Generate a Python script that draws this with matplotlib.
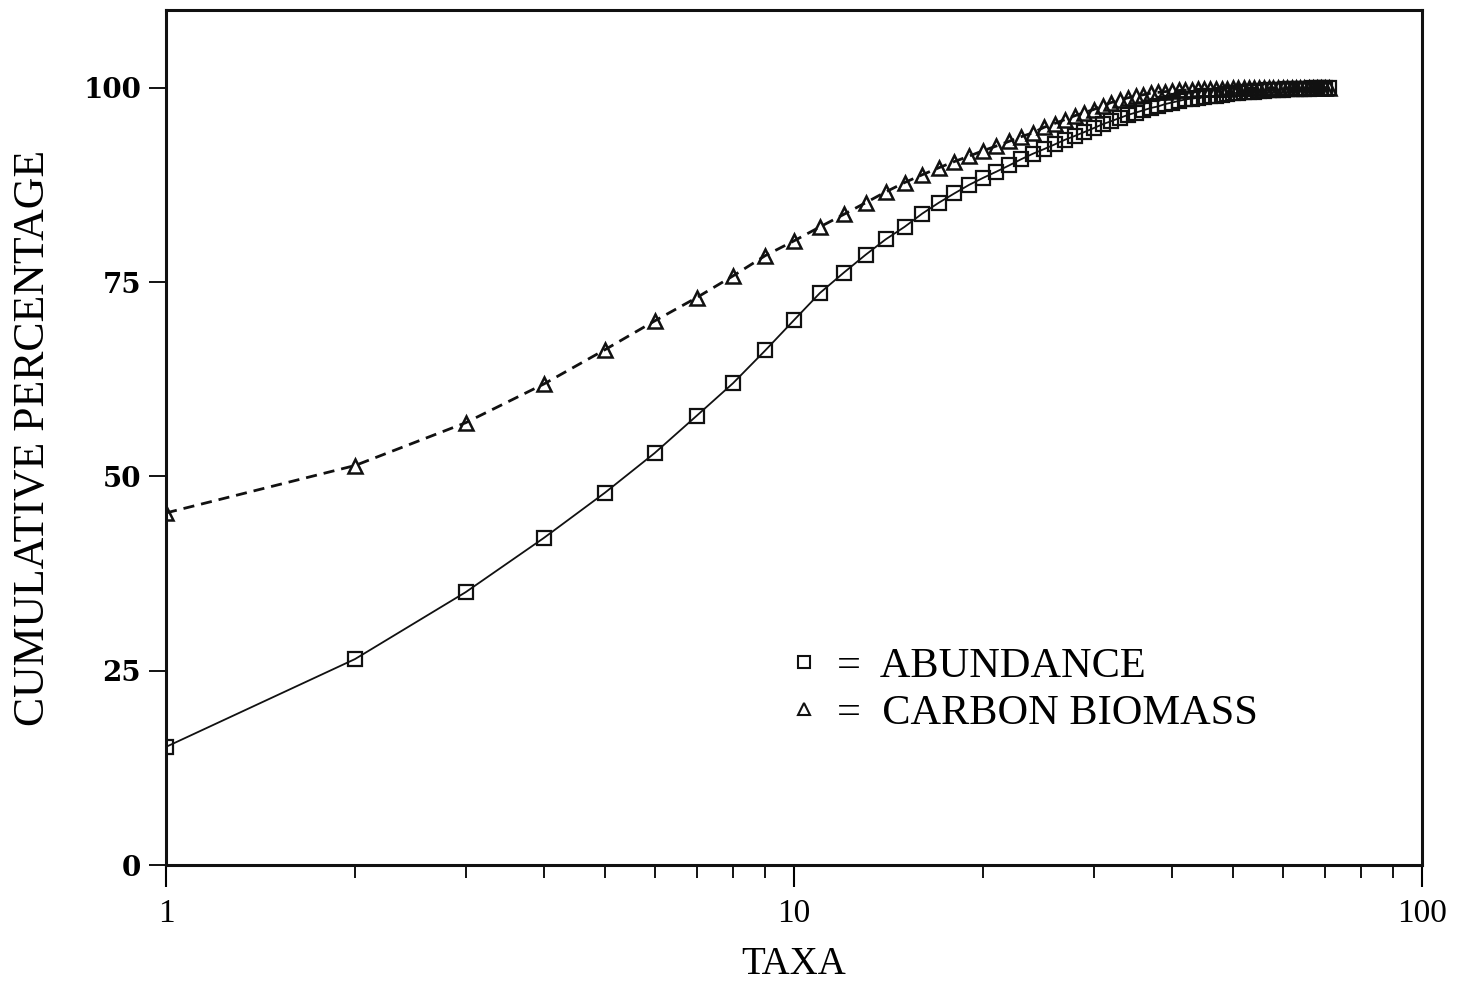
import numpy as np
import matplotlib
matplotlib.use('Agg')
import matplotlib.pyplot as plt
from matplotlib.lines import Line2D
from matplotlib.ticker import FixedLocator, NullFormatter

plt.rcParams['font.family'] = ['Liberation Serif', 'DejaVu Serif']

# cumulative percentage by ranked taxa
taxa = list(range(1, 72))
abundance = [15.2, 26.5, 35.1, 42.1, 47.9, 53.0, 57.8, 62.0, 66.2, 70.1,
             73.6, 76.2, 78.5, 80.5, 82.1, 83.8, 85.2, 86.4, 87.5, 88.4,
             89.2, 90.0, 90.8, 91.5, 92.1, 92.7, 93.3, 93.8, 94.3, 94.8,
             95.3, 95.7, 96.1, 96.5, 96.8, 97.1, 97.4, 97.6, 97.9, 98.1,
             98.3, 98.5, 98.6, 98.7, 98.8, 98.9, 99.0, 99.1, 99.2, 99.3,
             99.35, 99.4, 99.45, 99.5, 99.55, 99.6, 99.65, 99.7, 99.72, 99.75,
             99.78, 99.8, 99.83, 99.86, 99.88, 99.9, 99.93, 99.95, 99.97, 99.99,
             100.0]
biomass = [45.3, 51.4, 56.9, 61.9, 66.3, 70.0, 73.0, 75.8, 78.4, 80.3,
           82.1, 83.7, 85.2, 86.6, 87.8, 88.8, 89.7, 90.5, 91.2, 91.9,
           92.5, 93.1, 93.7, 94.2, 94.9, 95.4, 95.9, 96.4, 96.8, 97.2,
           97.7, 98.1, 98.4, 98.7, 98.9, 99.1, 99.3, 99.4, 99.5, 99.6,
           99.65, 99.7, 99.75, 99.8, 99.82, 99.84, 99.86, 99.88, 99.9, 99.91,
           99.92, 99.93, 99.94, 99.95, 99.95, 99.96, 99.96, 99.97, 99.97, 99.98,
           99.98, 99.98, 99.99, 99.99, 99.99, 99.99, 100.0, 100.0, 100.0, 100.0,
           100.0]

yticks = [0, 25, 50, 75, 100]
xticks = [1, 10, 100]

fig = plt.figure(figsize=(14.65, 9.83), dpi=100)
ax = fig.add_axes([0.1133, 0.12, 0.8573, 0.8698])

ax.plot(taxa, abundance, color='#111111', lw=1.3, ls='-',
        marker='s', ms=10.5, mfc='none', mec='#111111', mew=1.6)
ax.plot(taxa, biomass, color='#111111', lw=2.0, ls=(0, (4, 2.5)),
        marker='^', ms=10, mfc='none', mec='#111111', mew=1.8)

ax.set_xscale('log')
ax.set_xlim(1, 100)
ax.set_ylim(0, 110)

ax.xaxis.set_major_locator(FixedLocator(xticks))
ax.set_xticklabels([str(t) for t in xticks])
ax.xaxis.set_minor_locator(FixedLocator([2, 3, 4, 5, 6, 7, 8, 9, 20, 30, 40, 50, 60, 70, 80, 90]))
ax.xaxis.set_minor_formatter(NullFormatter())
ax.set_yticks(yticks)
ax.set_yticklabels([str(t) for t in yticks], fontweight='bold', family='DejaVu Serif')

ax.tick_params(axis='x', which='major', direction='out', length=16, width=1.5,
               labelsize=24, pad=8, top=False)
ax.tick_params(axis='x', which='minor', direction='out', length=9, width=1.3, top=False)
ax.tick_params(axis='y', direction='out', length=12, width=1.3, labelsize=20, pad=6, right=False)

for s in ax.spines.values():
    s.set_linewidth(2.2)
    s.set_color('#111111')

ax.set_xlabel('TAXA', fontsize=28, labelpad=12)
ax.set_ylabel('CUMULATIVE PERCENTAGE', fontsize=31.5, labelpad=22)

handles = [Line2D([], [], ls='none', marker='s', ms=8, mfc='none', mec='#111111', mew=1.5),
           Line2D([], [], ls='none', marker='^', ms=8, mfc='none', mec='#111111', mew=1.5)]
ax.legend(handles, ['=  ABUNDANCE', '=  CARBON BIOMASS'], loc='upper left',
          bbox_to_anchor=(0.484, 0.275), frameon=False, fontsize=30.5,
          handlelength=0.6, handletextpad=0.5, labelspacing=0.2, borderaxespad=0)

fig.savefig('out.png', dpi=100)
